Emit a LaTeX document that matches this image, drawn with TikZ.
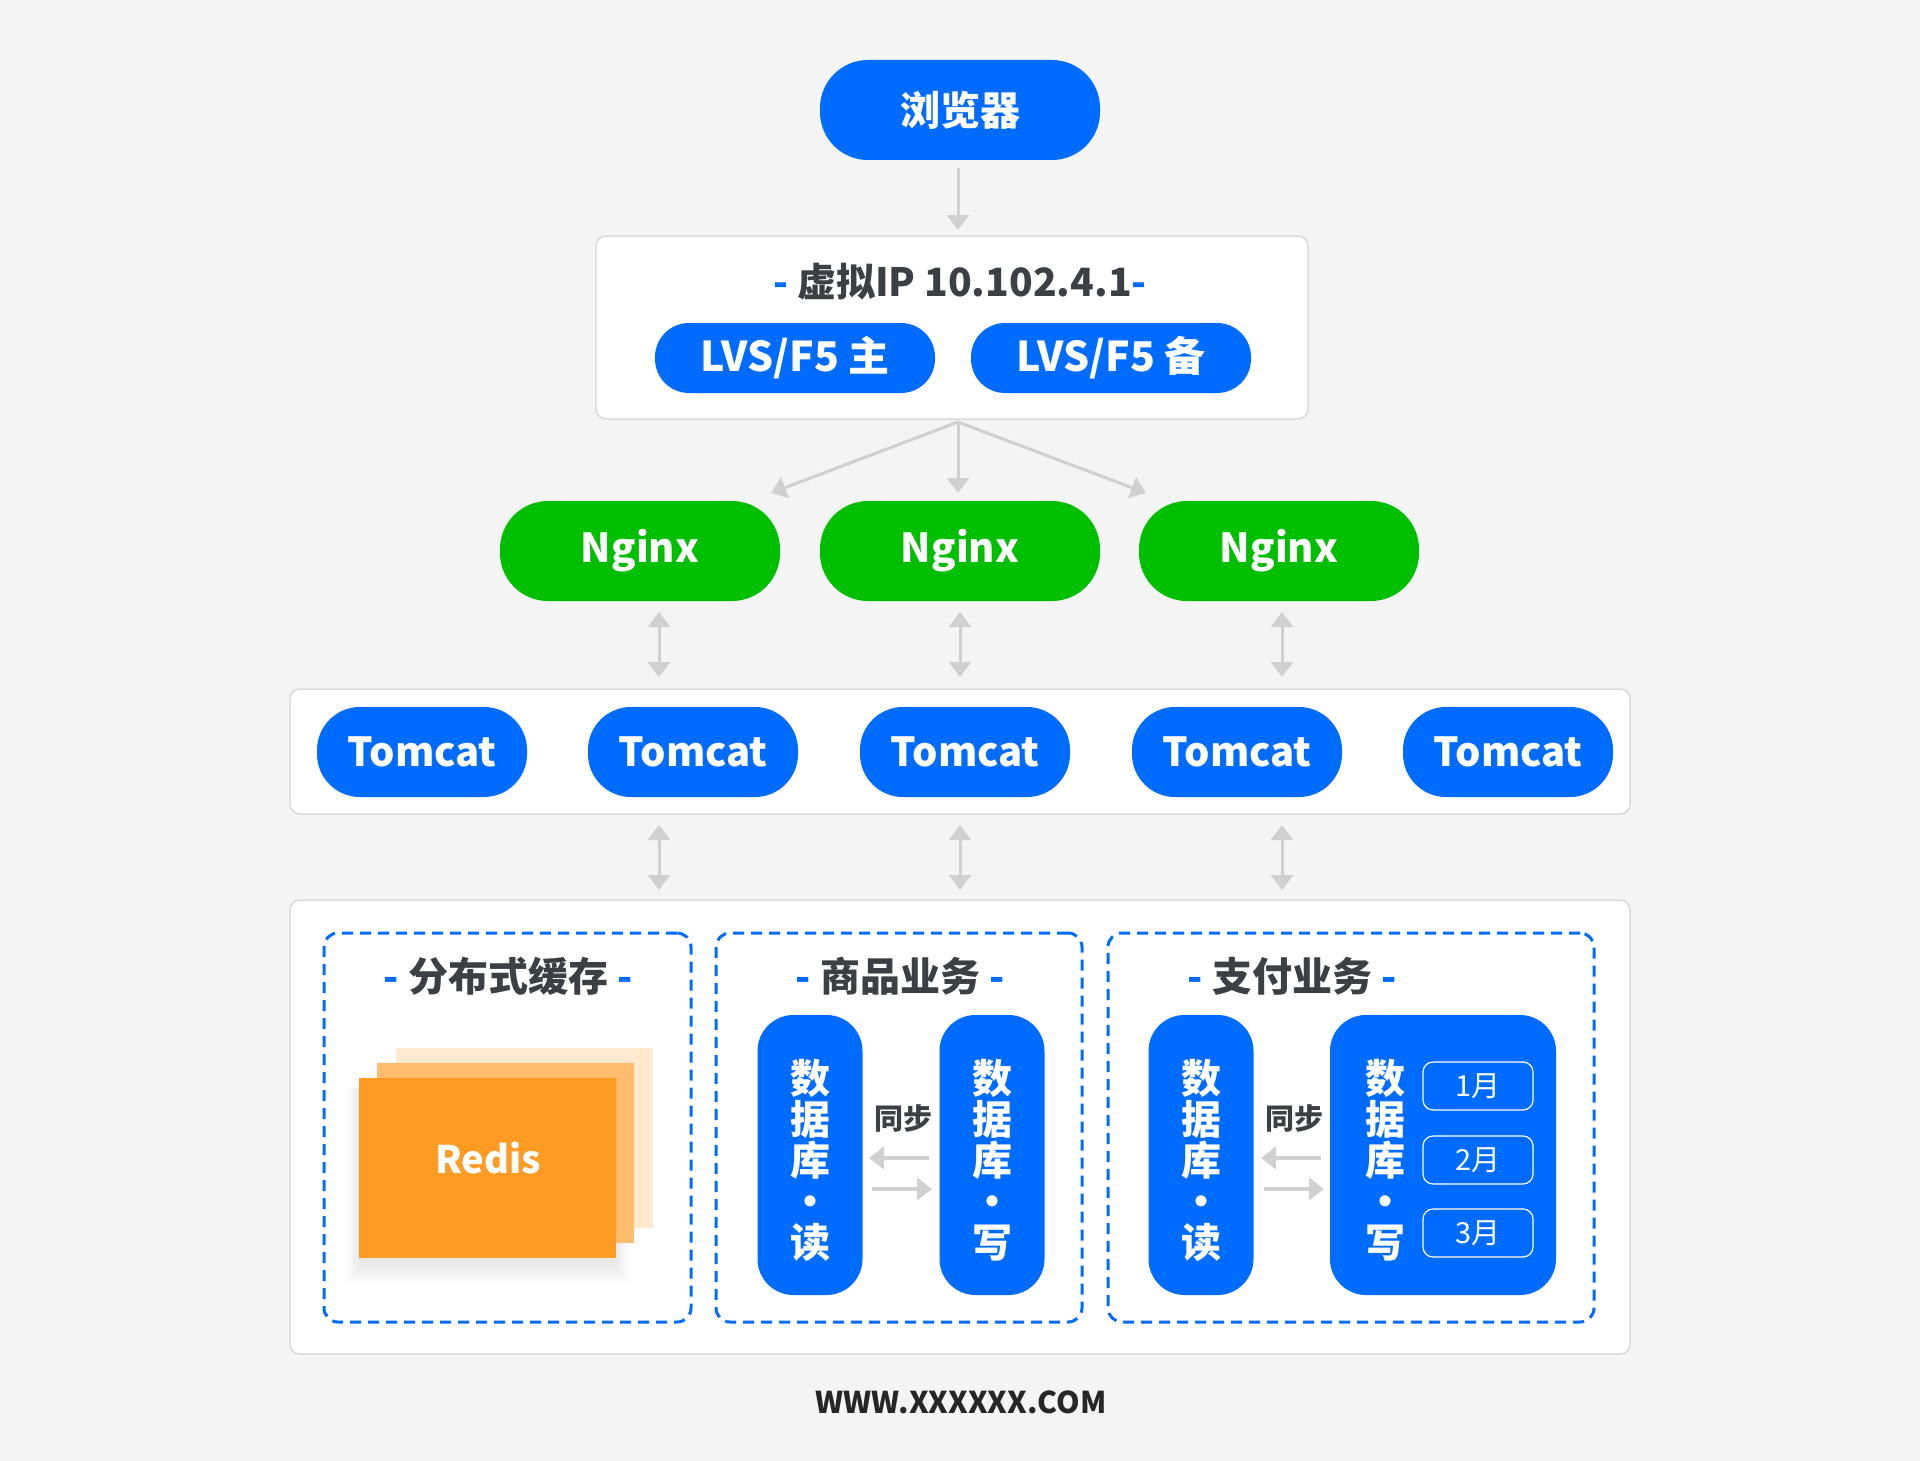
\documentclass[tikz,border=0pt]{standalone}
\usepackage{fontspec}
\setmainfont{Noto Sans CJK SC}
\usetikzlibrary{arrows.meta}
\definecolor{bg}{HTML}{F4F4F4}
\definecolor{mblue}{HTML}{006CFF}
\definecolor{mgreen}{HTML}{00BF00}
\definecolor{arr}{HTML}{D0D0D0}
\definecolor{bord}{HTML}{DADADA}
\definecolor{ttl}{HTML}{3C3F44}
\definecolor{orA}{HTML}{FF9A22}
\definecolor{orB}{HTML}{FFBB6E}
\definecolor{orC}{HTML}{FFE9CF}
\begin{document}
\begin{tikzpicture}[x=1pt,y=-1pt,
  every node/.style={inner sep=0pt, outer sep=0pt},
  bluepill/.style={fill=mblue, text=white, font=\bfseries\fontsize{40}{40}\selectfont},
  greenpill/.style={fill=mgreen, text=white, font=\bfseries\fontsize{40}{40}\selectfont, minimum width=280, minimum height=100, rounded corners=48},
  tomcatpill/.style={bluepill, minimum width=210, minimum height=90, rounded corners=43},
  container/.style={fill=white, draw=bord, line width=1.5pt, rounded corners=10},
  dashbox/.style={draw=mblue, line width=3pt, dash pattern=on 11pt off 7pt, rounded corners=14},
  grptitle/.style={text=ttl, font=\bfseries\fontsize{40}{40}\selectfont},
  dbbox/.style={fill=mblue, rounded corners=36, minimum height=280},
  vtext/.style={text=white, align=center, font=\bfseries\fontsize{40}{41}\selectfont},
  month/.style={draw=white, line width=1.2pt, rounded corners=10, minimum width=110, minimum height=48, text=white, font=\fontsize{29}{29}\selectfont},
  synclabel/.style={text=ttl, font=\bfseries\fontsize{29}{29}\selectfont},
  garr/.style={draw=arr, line width=3pt, -{Triangle[width=22pt,length=15pt]}},
  darr/.style={draw=arr, line width=3pt, {Triangle[width=22pt,length=15pt]}-{Triangle[width=22pt,length=15pt]}},
  sarr/.style={draw=arr, line width=4pt, -{Triangle[width=22pt,length=15pt]}}
]
\fill[bg] (0,0) rectangle (1920,1461);
\useasboundingbox (0,0) rectangle (1920,1461);

% browser
\node[bluepill, minimum width=280, minimum height=100, rounded corners=48] (browser) at (960,110) {浏览器};

% VIP container
\node[container, minimum width=712, minimum height=183] (vip) at (952,327.5) {};
\node[grptitle, font=\bfseries\fontsize{39}{39}\selectfont] (viptitle) at (960,282) {\textcolor{mblue}{-} 虚拟IP 10.102.4.1\textcolor{mblue}{-}};
\node[bluepill, font=\bfseries\fontsize{41}{41}\selectfont, minimum width=280, minimum height=70, rounded corners=34] (lvs1) at (795,358) {LVS/F5 主};
\node[bluepill, font=\bfseries\fontsize{41}{41}\selectfont, minimum width=280, minimum height=70, rounded corners=34] (lvs2) at (1111,358) {LVS/F5 备};

% Nginx
\node[greenpill] (ng1) at (640,551) {Nginx};
\node[greenpill] (ng2) at (960,551) {Nginx};
\node[greenpill] (ng3) at (1279,551) {Nginx};

% Tomcat container
\node[container, minimum width=1340, minimum height=125] (tcbox) at (960,751.5) {};
\node[tomcatpill] (tc1) at (422,752) {Tomcat};
\node[tomcatpill] (tc2) at (693,752) {Tomcat};
\node[tomcatpill] (tc3) at (965,752) {Tomcat};
\node[tomcatpill] (tc4) at (1237,752) {Tomcat};
\node[tomcatpill] (tc5) at (1508,752) {Tomcat};

% bottom container
\node[container, minimum width=1340, minimum height=454] (botbox) at (960,1127) {};
\node[dashbox, minimum width=367, minimum height=389] (g1) at (507.5,1127.5) {};
\node[dashbox, minimum width=366, minimum height=389] (g2) at (899,1127.5) {};
\node[dashbox, minimum width=486, minimum height=389] (g3) at (1351,1127.5) {};
\node[grptitle] (t1) at (508,976) {\textcolor{mblue}{-} 分布式缓存 \textcolor{mblue}{-}};
\node[grptitle] (t2) at (900,976) {\textcolor{mblue}{-} 商品业务 \textcolor{mblue}{-}};
\node[grptitle] (t3) at (1292,976) {\textcolor{mblue}{-} 支付业务 \textcolor{mblue}{-}};

% Redis stack
\foreach \i in {0,...,11}
  \fill[black, opacity=0.009] (361-1.5*\i,1088) rectangle (614+1.5*\i,1262+2*\i);
\node[fill=orC, minimum width=257, minimum height=180] (r3) at (524.5,1138) {};
\node[fill=orB, minimum width=257, minimum height=180] (r2) at (505.5,1153) {};
\node[fill=orA, minimum width=257, minimum height=180] (r1) at (487.5,1168) {};
\node[text=white, font=\bfseries\fontsize{38}{38}\selectfont] (redis) at (488,1158) {Redis};

% goods DB
\node[dbbox, minimum width=105] (gr) at (810,1155) {};
\node[dbbox, minimum width=105] (gw) at (992,1155) {};
\node[vtext] (grt) at (810,1160) {数\\据\\库\\·\\读};
\node[vtext] (gwt) at (992,1160) {数\\据\\库\\·\\写};
\node[synclabel] (gs) at (903,1118) {同步};

% pay DB
\node[dbbox, minimum width=105] (pr) at (1201,1155) {};
\node[dbbox, minimum width=226] (pw) at (1443,1155) {};
\node[vtext] (prt) at (1201,1160) {数\\据\\库\\·\\读};
\node[vtext] (pwt) at (1385,1160) {数\\据\\库\\·\\写};
\node[month] (m1) at (1478,1086) {1月};
\node[month] (m2) at (1478,1160) {2月};
\node[month] (m3) at (1478,1233) {3月};
\node[synclabel] (ps) at (1294,1118) {同步};

% footer
\node[text=black!85, font=\bfseries\fontsize{30}{30}\selectfont] (footer) at (961,1402) {WWW.XXXXXX.COM};

% connectors
\coordinate (b1) at (958,168);
\coordinate (b2) at (958,230);
\draw[garr] (b1) -- (b2);
\coordinate (v0) at (958,422);
\coordinate (n1) at (771,493);
\coordinate (n2) at (958,493);
\coordinate (n3) at (1146,493);
\draw[garr] (v0) -- (n1);
\draw[garr] (v0) -- (n2);
\draw[garr] (v0) -- (n3);

\coordinate (a1t) at (659,612); \coordinate (a1b) at (659,677);
\coordinate (a2t) at (960,612); \coordinate (a2b) at (960,677);
\coordinate (a3t) at (1282,612); \coordinate (a3b) at (1282,677);
\draw[darr] (a1t) -- (a1b);
\draw[darr] (a2t) -- (a2b);
\draw[darr] (a3t) -- (a3b);

\coordinate (c1t) at (659,825); \coordinate (c1b) at (659,890);
\coordinate (c2t) at (960,825); \coordinate (c2b) at (960,890);
\coordinate (c3t) at (1282,825); \coordinate (c3b) at (1282,890);
\draw[darr] (c1t) -- (c1b);
\draw[darr] (c2t) -- (c2b);
\draw[darr] (c3t) -- (c3b);

\coordinate (gl1) at (929,1158); \coordinate (gl2) at (869,1158);
\coordinate (gr1) at (872,1189); \coordinate (gr2) at (932,1189);
\draw[sarr] (gl1) -- (gl2);
\draw[sarr] (gr1) -- (gr2);
\coordinate (pl1) at (1321,1158); \coordinate (pl2) at (1261,1158);
\coordinate (pr1) at (1264,1189); \coordinate (pr2) at (1324,1189);
\draw[sarr] (pl1) -- (pl2);
\draw[sarr] (pr1) -- (pr2);
\end{tikzpicture}
\end{document}
